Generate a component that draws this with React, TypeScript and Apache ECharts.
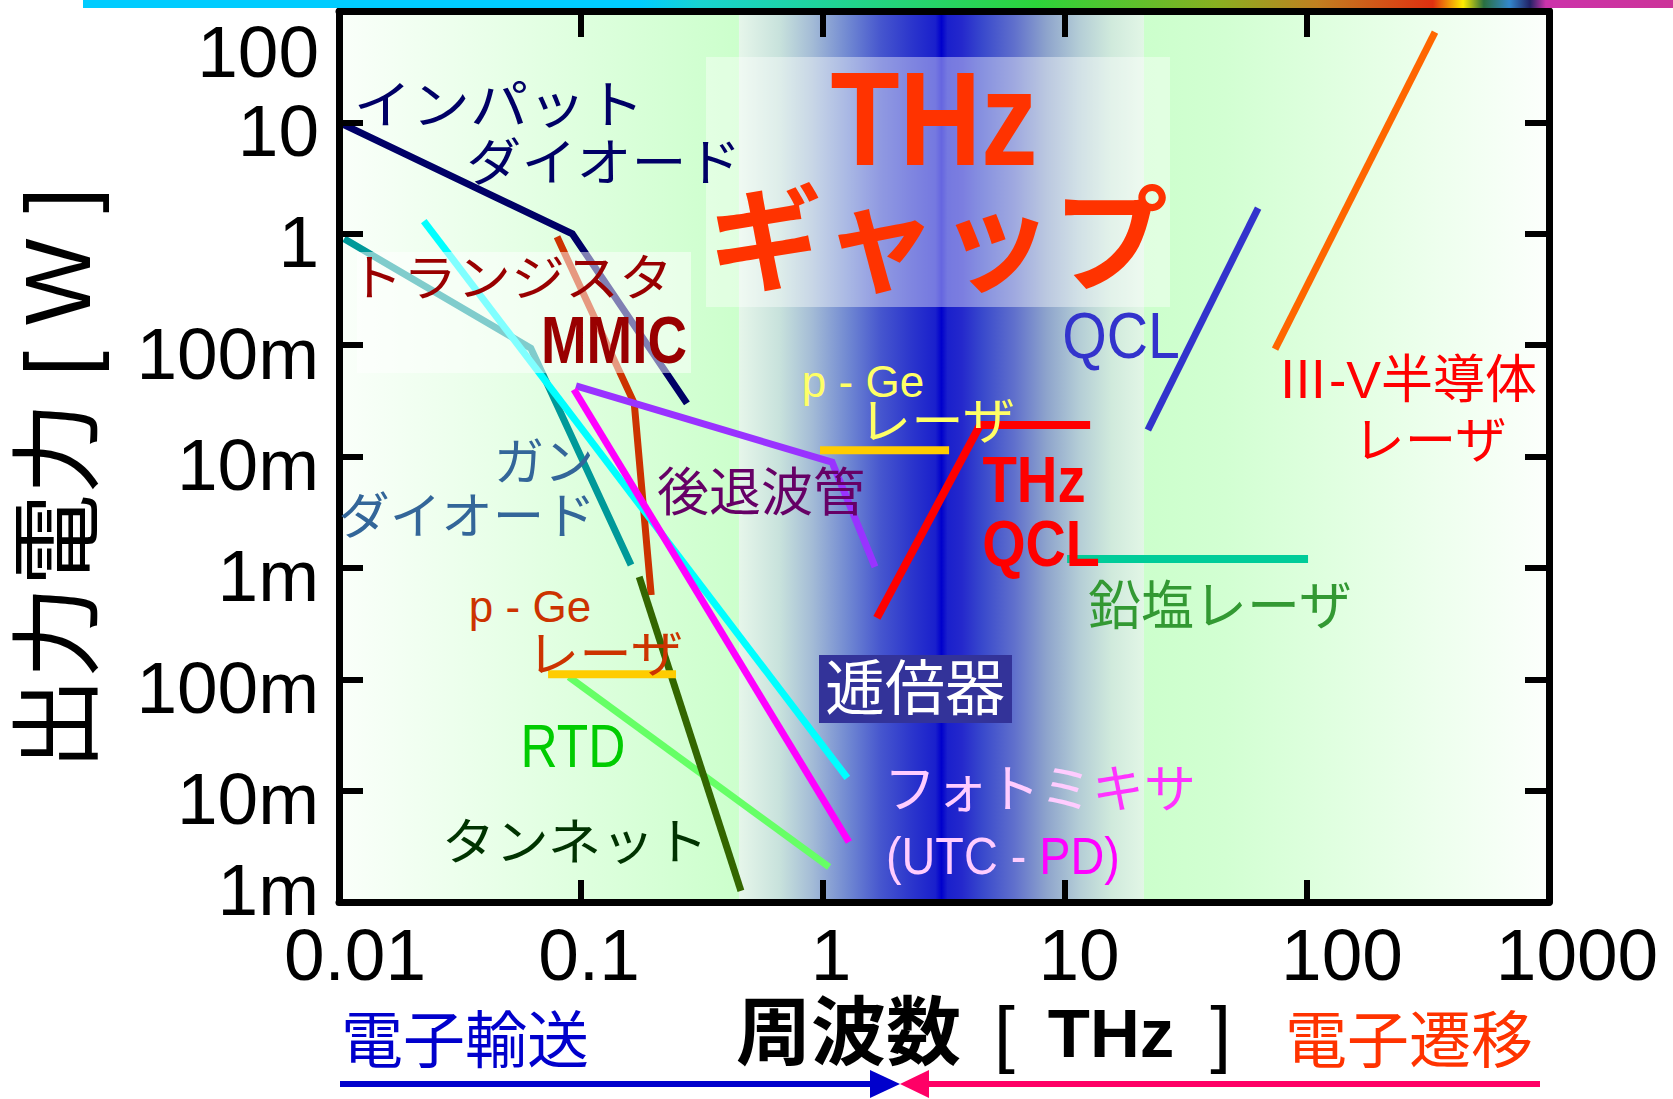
import React, { useEffect, useRef } from 'react';
import * as echarts from 'echarts';

const FONT = "'Liberation Sans','Noto Sans CJK JP',sans-serif";

// frequency [THz] / output power [W]
const impattX = [0.01, 0.092, 0.274];
const impattY = [10, 1.0, 0.03];
const gunnX = [0.0105, 0.062, 0.161];
const gunnY = [0.9, 0.094, 0.00106];
const photomixX = [0.0224, 1.26];
const photomixY = [1.3, 1.3e-5];
const mmicX = [0.0796, 0.166, 0.195];
const mmicY = [0.94, 0.03, 0.00057];
const bwoX = [0.0953, 1.09, 1.64];
const bwoY = [0.043, 0.0089, 0.00102];
const utcX = [0.0935, 1.28];
const utcY = [0.04, 3.46e-6];
const rtdX = [0.0891, 1.06];
const rtdY = [1.05e-4, 2.06e-6];
const tunnettX = [0.174, 0.458];
const tunnettY = [8.3e-4, 1.26e-6];
const pGeLowX = [0.0731, 0.247];
const pGeLowY = [1.11e-4, 1.11e-4];
const pGeHighX = [0.972, 3.32];
const pGeHighY = [0.0114, 0.0114];
const thzQclX = [1.67, 4.46, 12.7];
const thzQclY = [3.55e-4, 0.0192, 0.0192];
const leadSaltX = [10.2, 101];
const leadSaltY = [0.0012, 0.0012];
const qclX = [22.0, 62.8];
const qclY = [0.0173, 1.7];
const iiivX = [73.8, 338];
const iiivY = [0.092, 64.7];

const xTickLabels = ['0.01', '0.1', '1', '10', '100', '1000'];
const yTickLabels = ['1m', '10m', '100m', '1m', '10m', '100m', '1', '10', '100'];

// background bands (THz)
const bandLeft = [0.01, 0.4496];
const bandGap = [0.4496, 21.2];
const bandRight = [21.2, 1000];

const pts = (xs: number[], ys: number[]) => xs.map((x, i) => [x, ys[i]]);

const lineDefs = [
  { name: 'インパットダイオード', x: impattX, y: impattY, color: '#000066', w: 7 },
  { name: 'ガンダイオード', x: gunnX, y: gunnY, color: '#009999', w: 7 },
  { name: 'トランジスタ MMIC', x: mmicX, y: mmicY, color: '#cc3300', w: 7 },
  { name: 'フォトミキサ', x: photomixX, y: photomixY, color: '#00ffff', w: 7 },
  { name: '後退波管', x: bwoX, y: bwoY, color: '#9933ff', w: 7 },
  { name: 'UTC-PD', x: utcX, y: utcY, color: '#ff00ff', w: 7 },
  { name: 'RTD', x: rtdX, y: rtdY, color: '#66ff66', w: 7 },
  { name: 'タンネット', x: tunnettX, y: tunnettY, color: '#336600', w: 7 },
  { name: 'p-Ge レーザ (低)', x: pGeLowX, y: pGeLowY, color: '#ffcc00', w: 8 },
  { name: 'p-Ge レーザ', x: pGeHighX, y: pGeHighY, color: '#ffcc00', w: 8 },
  { name: 'THz QCL', x: thzQclX, y: thzQclY, color: '#ff0000', w: 8 },
  { name: '鉛塩レーザ', x: leadSaltX, y: leadSaltY, color: '#00cc99', w: 8 },
  { name: 'QCL', x: qclX, y: qclY, color: '#3333cc', w: 7 },
  { name: 'III-V半導体レーザ', x: iiivX, y: iiivY, color: '#ff6600', w: 7 },
];

const xOffsets = [16, 8, 8, 14, 35, 28];

function T(text: string, x: number, y: number, size: number, color: string, o: any = {}) {
  return {
    type: 'text',
    x,
    y,
    z: 10,
    scaleX: o.sx ?? 1,
    rotation: o.rot ?? 0,
    silent: true,
    style: {
      text,
      fill: color,
      fontSize: size,
      fontFamily: FONT,
      fontWeight: o.bold ? 'bold' : 'normal',
      align: o.align ?? 'center',
      verticalAlign: 'middle',
      lineHeight: o.lh ?? Math.round(size * 0.92),
      rich: o.rich,
    },
  };
}

export default function App() {
  const ref = useRef<HTMLDivElement>(null);
  useEffect(() => {
    if (!ref.current) return;
    const chart = echarts.init(ref.current, undefined, { renderer: 'svg' });
    const LG = echarts.graphic.LinearGradient;

    const xRich: any = {};
    xTickLabels.forEach((_, i) => {
      xRich['o' + i] = {
        fontSize: 73,
        lineHeight: 60,
        fontFamily: FONT,
        color: '#000',
        padding: [0, 0, 0, 2 * xOffsets[i]],
      };
    });
    const yRich: any = {
      n: { fontSize: 73, fontFamily: FONT, color: '#000', padding: [16, 0, 0, 0] },
      t: { fontSize: 73, fontFamily: FONT, color: '#000', padding: [80, 0, 0, 0] },
      b: { fontSize: 73, fontFamily: FONT, color: '#000', padding: [0, 0, 26, 0] },
    };

    const axisLine = { show: true, lineStyle: { color: '#000', width: 7 } };
    const tick = (len: number) => ({ show: true, inside: true, length: len, lineStyle: { color: '#000', width: 6 } });

    const series: any[] = [
      {
        type: 'line',
        name: 'bg',
        z: 1,
        data: [[0.01, 1e-6]],
        symbol: 'none',
        lineStyle: { opacity: 0 },
        silent: true,
        markArea: {
          silent: true,
          z: 1,
          data: [
            [
              {
                xAxis: bandLeft[0],
                itemStyle: {
                  opacity: 1,
                  color: new LG(0, 0, 1, 0, [
                    { offset: 0, color: '#fafffa' },
                    { offset: 1, color: '#ccffcc' },
                  ]),
                },
              },
              { xAxis: bandLeft[1] },
            ],
            [
              {
                xAxis: bandGap[0],
                itemStyle: {
                  opacity: 1,
                  color: new LG(0, 0, 1, 0, [
                    { offset: 0, color: '#e6f6ea' },
                    { offset: 0.1, color: '#c8e2dc' },
                    { offset: 0.18, color: '#a4bcd6' },
                    { offset: 0.27, color: '#7088d2' },
                    { offset: 0.35, color: '#4656ce' },
                    { offset: 0.43, color: '#2a34cc' },
                    { offset: 0.485, color: '#1a20cc' },
                    { offset: 0.5, color: '#0000cc' },
                    { offset: 0.515, color: '#1a20cc' },
                    { offset: 0.55, color: '#2428cc' },
                    { offset: 0.6, color: '#3848cc' },
                    { offset: 0.68, color: '#6070cc' },
                    { offset: 0.76, color: '#8ea4cc' },
                    { offset: 0.84, color: '#b4cdd6' },
                    { offset: 0.92, color: '#d0eadc' },
                    { offset: 1, color: '#e2f6e6' },
                  ]),
                },
              },
              { xAxis: bandGap[1] },
            ],
            [
              {
                xAxis: bandRight[0],
                itemStyle: {
                  opacity: 1,
                  color: new LG(0, 0, 1, 0, [
                    { offset: 0, color: '#ccffcc' },
                    { offset: 0.2, color: '#d2ffd2' },
                    { offset: 1, color: '#fcfffc' },
                  ]),
                },
              },
              { xAxis: bandRight[1] },
            ],
          ],
        },
      },
      ...lineDefs.map((d) => ({
        type: 'line',
        name: d.name,
        z: 2,
        data: pts(d.x, d.y),
        symbol: 'none',
        showSymbol: false,
        silent: true,
        lineStyle: { color: d.color, width: d.w, cap: 'butt', join: 'miter' },
      })),
    ];

    const graphic: any[] = [
      {
        type: 'rect',
        z: 10,
        silent: true,
        shape: { x: 83, y: 0, width: 1590, height: 8 },
        style: {
          fill: new LG(0, 0, 1, 0, [
            { offset: 0, color: '#00ccff' },
            { offset: 0.35, color: '#00ccff' },
            { offset: 0.388, color: '#18d4d0' },
            { offset: 0.6, color: '#2cd43a' },
            { offset: 0.713, color: '#88b020' },
            { offset: 0.776, color: '#c08020' },
            { offset: 0.849, color: '#e03010' },
            { offset: 0.868, color: '#ffee00' },
            { offset: 0.881, color: '#2a7040' },
            { offset: 0.897, color: '#3388cc' },
            { offset: 0.91, color: '#222266' },
            { offset: 0.92, color: '#cc33aa' },
            { offset: 1, color: '#cc3399' },
          ]),
        },
      },
      { type: 'rect', z: 3, silent: true, shape: { x: 706, y: 57, width: 464, height: 250 }, style: { fill: 'rgba(255,255,255,0.4)' } },
      { type: 'rect', z: 5, silent: true, shape: { x: 357, y: 252, width: 334, height: 121 }, style: { fill: 'rgba(255,255,255,0.5)' } },
      { type: 'rect', z: 9, silent: true, shape: { x: 819, y: 655, width: 193, height: 68 }, style: { fill: '#333399' } },
      // bottom arrows
      { type: 'line', z: 10, silent: true, shape: { x1: 340, y1: 1084, x2: 872, y2: 1084 }, style: { stroke: '#0000cc', lineWidth: 6 } },
      { type: 'polygon', z: 10, silent: true, shape: { points: [[870, 1070], [900, 1084], [870, 1098]] }, style: { fill: '#0000cc' } },
      { type: 'line', z: 10, silent: true, shape: { x1: 927, y1: 1084, x2: 1540, y2: 1084 }, style: { stroke: '#ff0066', lineWidth: 6 } },
      { type: 'polygon', z: 10, silent: true, shape: { points: [[929, 1070], [900, 1084], [929, 1098]] }, style: { fill: '#ff0066' } },
      // labels
      T('インパット', 499, 106, 52, '#000066', { sx: 1.12 }),
      T('ダイオード', 604, 163, 51, '#000066', { sx: 1.08 }),
      T('トランジスタ', 511, 279, 50, '#990000', { sx: 1.08 }),
      T('MMIC', 614, 340, 66, '#990000', { bold: true, sx: 0.83 }),
      T('ガン', 544, 463, 50, '#336699'),
      T('ダイオード', 467, 517, 50, '#336699', { sx: 1.03 }),
      T('後退波管', 761, 493, 52, '#660066'),
      T('p - Ge', 530, 606, 44, '#cc3300'),
      T('レーザ', 605, 655, 50, '#cc3300', { sx: 1.05 }),
      T('RTD', 573, 745, 62, '#00cc00', { sx: 0.83 }),
      T('タンネット', 575, 843, 50, '#003300', { sx: 1.07 }),
      T('p - Ge', 863, 381, 44, '#ffff66', { lh: 34 }),
      T('レーザ', 937, 422, 50, '#ffff66', { sx: 1.05, lh: 44 }),
      T('THz', 1034, 480, 64, '#ff0000', { bold: true, sx: 0.88, lh: 56 }),
      T('QCL', 1041, 544, 64, '#ff0000', { bold: true, sx: 0.87, lh: 56 }),
      T('鉛塩レーザ', 1220, 606, 53, '#339933'),
      T('QCL', 1121, 336, 65, '#3333cc', { sx: 0.88 }),
      T('Ⅲ-V半導体', 1277, 380, 52, '#ff0000', { align: 'left' }),
      T('レーザ', 1430, 441, 50, '#ff0000', { sx: 1.03 }),
      T('THz', 934, 119, 133, '#ff3300', { bold: true, sx: 0.85, lh: 110 }),
      T('ギャップ', 938, 242, 115, '#ff3300', { bold: true, lh: 105 }),
      T('逓倍器', 915, 689, 60, '#ffffff'),
      T('{a|フォトミ}{b|キサ}', 1040, 790, 52, '#ffccff', {
        rich: {
          a: { fill: '#ffccff', fontSize: 52, lineHeight: 48, fontFamily: FONT },
          b: { fill: '#ff33ff', fontSize: 52, lineHeight: 48, fontFamily: FONT },
        },
      }),
      T('{a|(UTC - }{b|PD)}', 886, 856, 52, '#ffccff', {
        align: 'left',
        sx: 0.9,
        rich: {
          a: { fill: '#ffccff', fontSize: 52, lineHeight: 52, fontFamily: FONT },
          b: { fill: '#ff00ff', fontSize: 52, lineHeight: 52, fontFamily: FONT },
        },
      }),
      T('電子輸送', 341, 1041, 62, '#0000cc', { align: 'left' }),
      T('電子遷移', 1285, 1041, 62, '#ff3300', { align: 'left' }),
      T('{a|周波数}{s|[}{t|THz}{e|]}', 736, 1033, 75, '#000000', {
        align: 'left',
        rich: {
          a: { fill: '#000', fontSize: 75, lineHeight: 62, fontWeight: 'bold', fontFamily: FONT },
          s: { fill: '#000', fontSize: 75, lineHeight: 62, fontFamily: FONT, padding: [0, 33, 0, 33] },
          t: { fill: '#000', fontSize: 69, lineHeight: 62, fontWeight: 'bold', fontFamily: FONT },
          e: { fill: '#000', fontSize: 75, lineHeight: 62, fontFamily: FONT, padding: [0, 0, 0, 36] },
        },
      }),
      T('出力電力 [ W ]', 58, 770, 92, '#000000', { align: 'left', rot: Math.PI / 2 }),
    ];

    chart.setOption({
      animation: false,
      backgroundColor: '#ffffff',
      grid: {
        left: 339,
        right: 124,
        top: 11,
        bottom: 197,
        containLabel: false,
        outerBoundsMode: 'none',
      },
      xAxis: [
        {
          type: 'log',
          logBase: 10,
          min: 0.01,
          max: 1000,
          position: 'bottom',
          z: 8,
          axisLine,
          axisTick: tick(22),
          splitLine: { show: false },
          axisLabel: {
            margin: 22,
            showMinLabel: true,
            showMaxLabel: true,
            formatter: (v: number) => {
              const i = Math.round(Math.log10(v)) + 2;
              return `{o${i}|${xTickLabels[i]}}`;
            },
            rich: xRich,
          },
        },
        {
          type: 'log',
          logBase: 10,
          min: 0.01,
          max: 1000,
          position: 'top',
          z: 8,
          axisLine,
          axisTick: tick(26),
          splitLine: { show: false },
          axisLabel: { show: false },
        },
      ],
      yAxis: [
        {
          type: 'log',
          logBase: 10,
          min: 1e-6,
          max: 100,
          position: 'left',
          z: 8,
          axisLine,
          axisTick: tick(24),
          splitLine: { show: false },
          axisLabel: {
            margin: 20,
            showMinLabel: true,
            showMaxLabel: true,
            formatter: (v: number) => {
              const e = Math.round(Math.log10(v));
              const i = e + 6;
              const k = e === 2 ? 't' : e === -6 ? 'b' : 'n';
              return `{${k}|${yTickLabels[i]}}`;
            },
            rich: yRich,
          },
        },
        {
          type: 'log',
          logBase: 10,
          min: 1e-6,
          max: 100,
          position: 'right',
          z: 8,
          axisLine,
          axisTick: tick(24),
          splitLine: { show: false },
          axisLabel: { show: false },
        },
      ],
      series,
      graphic,
    });
    return () => chart.dispose();
  }, []);
  return (
    <div
      ref={ref}
      style={{ position: 'fixed', left: 0, top: 0, width: 1673, height: 1099, background: '#fff' }}
    />
  );
}
